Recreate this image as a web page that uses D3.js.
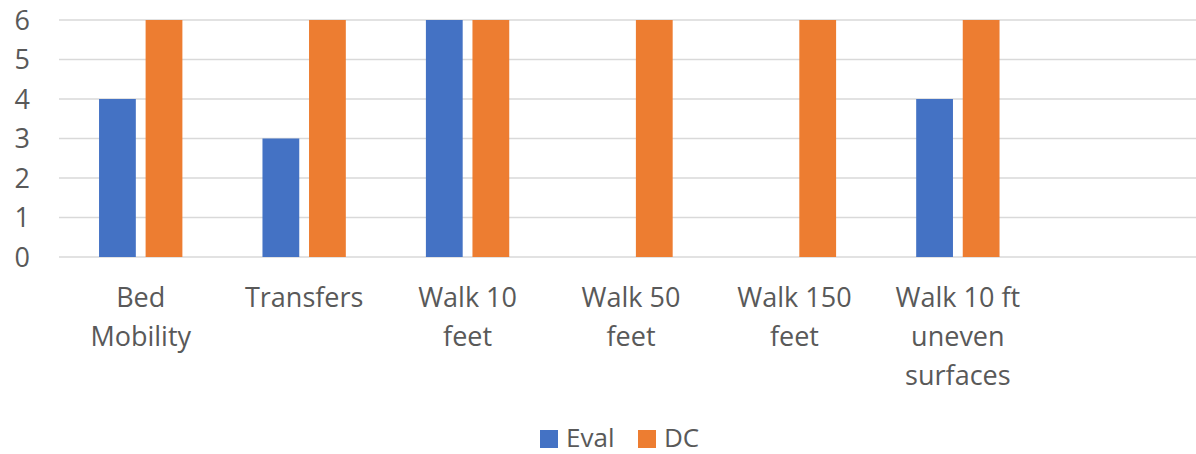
<!DOCTYPE html>
<html>
<head>
<meta charset="utf-8">
<script src="https://d3js.org/d3.v7.min.js"></script>
<style>
  body { margin: 0; background: #fff; }
  text { font-family: "Open Sans", "Noto Sans", sans-serif; fill: #595959; }
</style>
</head>
<body>
<svg id="chart" width="1196" height="454"></svg>
<script>
// data
const categories = ["Bed Mobility", "Transfers", "Walk 10 feet", "Walk 50 feet", "Walk 150 feet", "Walk 10 ft uneven surfaces", ""];
const categoryLines = [["Bed", "Mobility"], ["Transfers"], ["Walk 10", "feet"], ["Walk 50", "feet"], ["Walk 150", "feet"], ["Walk 10 ft", "uneven", "surfaces"], []];
const seriesNames = ["Eval", "DC"];
const evalValues = [4, 3, 6, 0, 0, 4, null];
const dcValues = [6, 6, 6, 6, 6, 6, null];
const yTicks = [0, 1, 2, 3, 4, 5, 6];
const colors = ["#4472c4", "#ed7d31"];

const svg = d3.select("#chart");

var x0 = d3.scaleBand()
    .domain(categories)
    .range([59, 1203])
    .paddingInner(0.49)
    .paddingOuter(0.245);

var x1 = d3.scaleBand()
    .domain(seriesNames)
    .range([0, x0.bandwidth()])
    .paddingInner(0.21);

var y = d3.scaleLinear()
    .domain([0, 6])
    .range([257, 20]);

// gridlines
svg.append("g")
    .selectAll("line")
    .data(yTicks)
    .enter()
    .append("line")
    .attr("x1", 59)
    .attr("x2", 1196)
    .attr("y1", d => y(d))
    .attr("y2", d => y(d))
    .attr("stroke", "#d9d9d9")
    .attr("stroke-width", 1.5);

// y tick labels
svg.append("g")
    .selectAll("text")
    .data(yTicks)
    .enter()
    .append("text")
    .attr("x", 30)
    .attr("y", d => y(d))
    .attr("dy", "0.36em")
    .attr("text-anchor", "end")
    .style("font-size", "27px")
    .text(d => d);

// bars
const rows = categories.map((c, i) => ({ cat: c, vals: [evalValues[i], dcValues[i]] }));

const groups = svg.append("g")
    .selectAll("g")
    .data(rows.filter(r => r.cat !== ""))
    .enter()
    .append("g")
    .attr("transform", d => "translate(" + x0(d.cat) + ",0)");

groups.selectAll("rect")
    .data(d => d.vals.map((v, j) => ({ name: seriesNames[j], value: v, color: colors[j] })))
    .enter()
    .append("rect")
    .filter(d => d.value > 0)
    .attr("x", d => x1(d.name))
    .attr("width", x1.bandwidth())
    .attr("y", d => y(d.value))
    .attr("height", d => y(0) - y(d.value))
    .attr("fill", d => d.color);

// category labels
const labels = svg.append("g")
    .selectAll("text")
    .data(categories)
    .enter()
    .append("text")
    .attr("text-anchor", "middle")
    .style("font-size", "27px")
    .attr("transform", d => "translate(" + (x0(d) + x0.bandwidth() / 2) + ",307)");

labels.selectAll("tspan")
    .data((d, i) => categoryLines[i])
    .enter()
    .append("tspan")
    .attr("x", 0)
    .attr("y", (d, i) => i * 39)
    .text(d => d);

// legend
const legendX = [540, 638];
const legend = svg.append("g")
    .selectAll("g")
    .data(seriesNames)
    .enter()
    .append("g")
    .attr("transform", (d, i) => "translate(" + legendX[i] + ",430)");

legend.append("rect")
    .attr("width", 18)
    .attr("height", 18)
    .attr("fill", (d, i) => colors[i]);

legend.append("text")
    .attr("x", 26)
    .attr("y", 17)
    .style("font-size", "26px")
    .text(d => d);
</script>
</body>
</html>
